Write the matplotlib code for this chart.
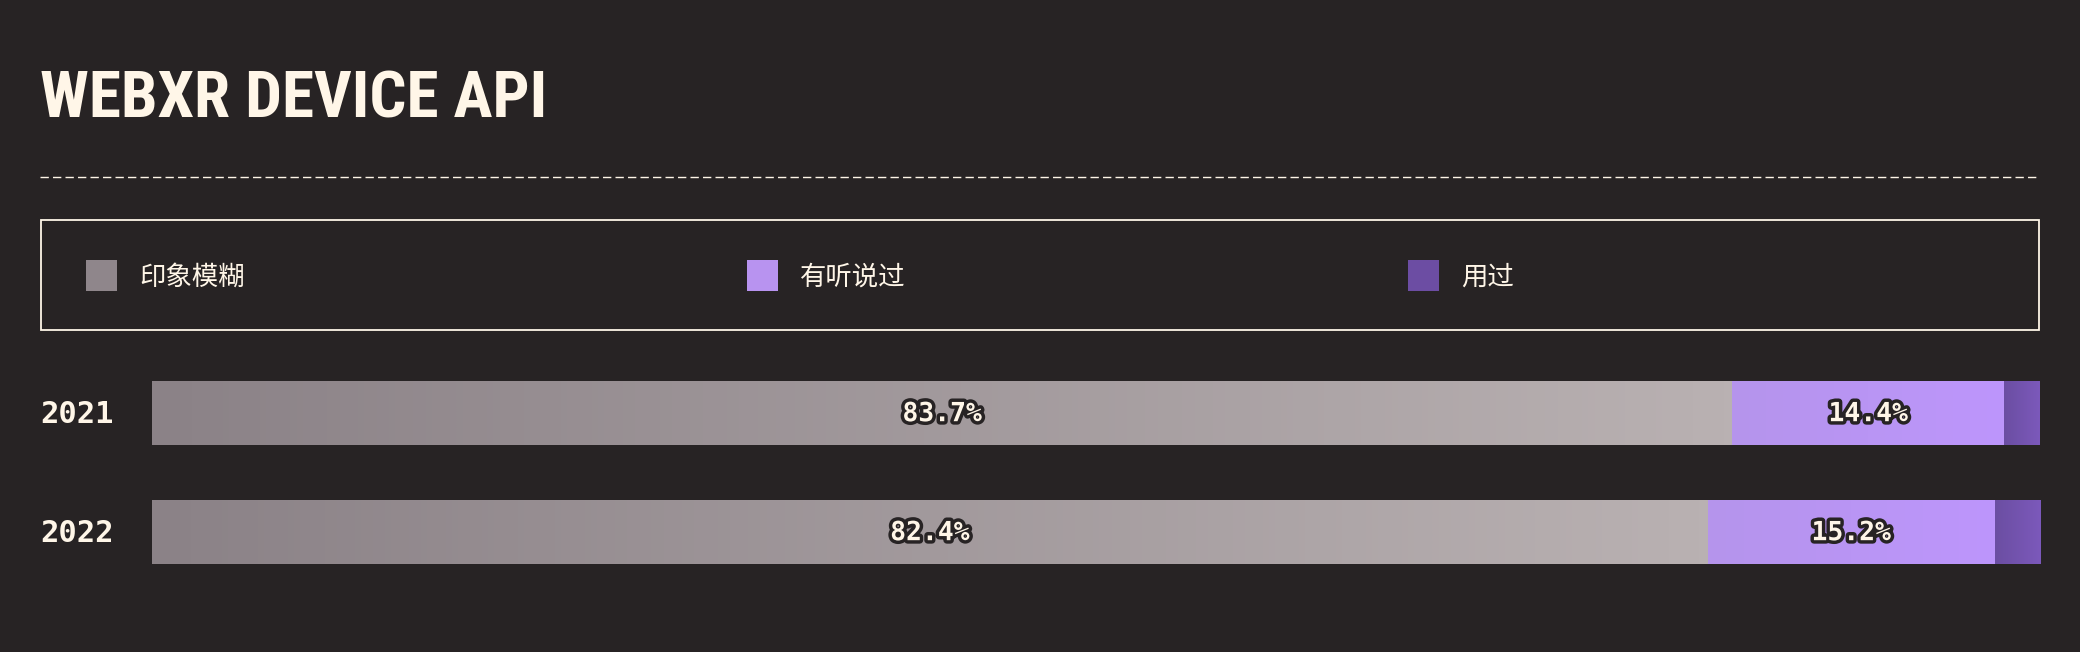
import numpy as np
import matplotlib.pyplot as plt
import matplotlib.patheffects as pe
from matplotlib.colors import LinearSegmentedColormap
from matplotlib.patches import Rectangle
from matplotlib.lines import Line2D
from matplotlib import font_manager

# data
years = ["2021", "2022"]
categories = ["印象模糊", "有听说过", "用过"]
vague = [83.7, 82.4]
heard = [14.4, 15.2]
used = [1.9, 2.4]
series = [vague, heard, used]
show_label = [True, True, False]

bg = "#272324"
cream = "#fff6e8"
legend_colors = ["#8f868b", "#b893f0", "#6c4da3"]
grad_colors = [("#8b8287", "#b9b1b2"), ("#b594ec", "#bd96fc"), ("#6b4ea2", "#7c59bb")]

W, H = 2080, 652
fig = plt.figure(figsize=(W / 100, H / 100), dpi=100, facecolor=bg)

def fx(px):
    return px / W

def fy(py):
    return 1 - py / H

names = {f.name for f in font_manager.fontManager.ttflist}
title_fam = [n for n in ["Roboto Condensed", "Open Sans Condensed", "DejaVu Sans"] if n in names]

# title
fig.text(fx(40), fy(117), "WEBXR DEVICE API", color=cream, fontsize=47,
         fontweight="bold", fontstretch="condensed", family=title_fam,
         va="baseline", ha="left")

# dashed separator
fig.add_artist(Line2D([fx(40), fx(2040)], [fy(177), fy(177)], color=cream,
                      lw=1.0, dashes=[6, 3]))

# legend box
fig.add_artist(Rectangle((fx(41), fy(330)), fx(1998), 110 / H, fill=False,
                         edgecolor=cream, lw=1.3, transform=fig.transFigure))
for i, (cat, col) in enumerate(zip(categories, legend_colors)):
    x0 = 86 + i * 661
    fig.add_artist(Rectangle((fx(x0), fy(291)), fx(31), 31 / H, facecolor=col,
                             edgecolor="none", transform=fig.transFigure))
    fig.text(fx(x0 + 53), fy(277), cat, color=cream, fontsize=19,
             family=["Noto Sans CJK SC", "DejaVu Sans"], va="center", ha="left")

# bars
ax = fig.add_axes([fx(152), fy(591.5), fx(1888), 238 / H])
ax.set_facecolor(bg)
ax.axis("off")

ypos = np.arange(len(years))
left = np.zeros(len(years))
for vals, (c0, c1), lab in zip(series, grad_colors, show_label):
    cmap = LinearSegmentedColormap.from_list("g", [c0, c1])
    bars = ax.barh(ypos, vals, left=left, height=0.53, color=c0, edgecolor="none")
    for b, v in zip(bars, vals):
        x, y = b.get_x(), b.get_y()
        w, h = b.get_width(), b.get_height()
        im = ax.imshow(np.linspace(0, 1, 256).reshape(1, -1), cmap=cmap,
                       extent=[x, x + w, y + h, y], aspect="auto",
                       interpolation="bilinear", zorder=2)
        im.set_clip_path(b)
        if lab:
            ax.text(x + w / 2, y + h / 2 + 0.01, f"{v:.1f}%", color=cream, fontsize=19,
                    fontweight="bold", family="DejaVu Sans Mono",
                    ha="center", va="center", zorder=5,
                    path_effects=[pe.withStroke(linewidth=5, foreground=bg)])
    left = left + np.array(vals)

ax.set_xlim(0, 100)
ax.set_ylim(1.5, -0.5)

for yp, yr in zip(ypos, years):
    ax.text(-112 / 1888 * 100, yp + 0.01, yr, color=cream, fontsize=22, fontweight="bold",
            family="DejaVu Sans Mono", ha="left", va="center")

fig.savefig("out.png", dpi=100, facecolor=bg)
